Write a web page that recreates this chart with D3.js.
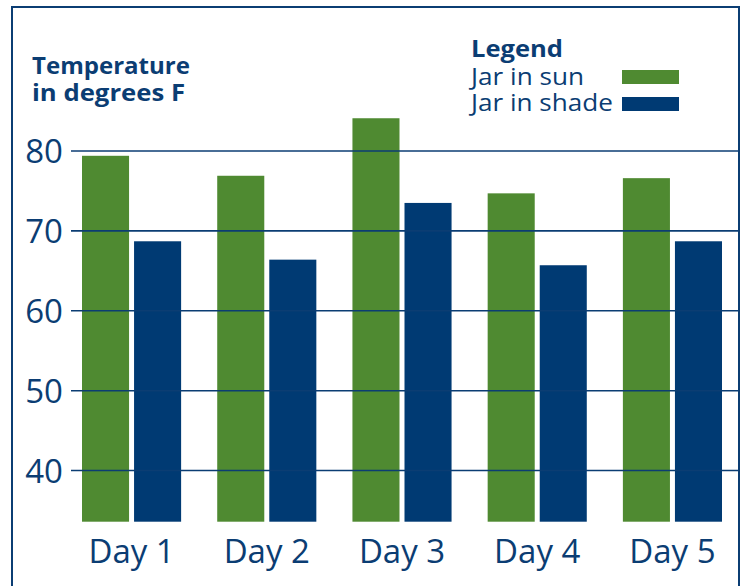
<!DOCTYPE html>
<html>
<head>
<meta charset="utf-8">
<script src="https://cdn.jsdelivr.net/npm/d3@7"></script>
<style>
  html, body { margin: 0; padding: 0; background: #fff; }
  svg { display: block; }
  text { font-family: "Open Sans", Lato, sans-serif; fill: #0b3d73; }
</style>
</head>
<body>
<svg id="chart" width="748" height="586"></svg>
<script>
const days = ["Day 1", "Day 2", "Day 3", "Day 4", "Day 5"];
const seriesNames = ["Jar in sun", "Jar in shade"];
const sunValues = [79.4, 76.9, 84.1, 74.7, 76.6];
const shadeValues = [68.7, 66.4, 73.5, 65.7, 68.7];
const yTicks = [40, 50, 60, 70, 80];
const colors = ["#4f8a31", "#003a73"];
const textColor = "#0b3d73";

const svg = d3.select("#chart");

// frame (bottom edge runs off the picture)
svg.append("rect")
  .attr("x", 12).attr("y", 7)
  .attr("width", 727).attr("height", 620)
  .attr("fill", "none")
  .attr("stroke", "#0b3d73")
  .attr("stroke-width", 2);

const y = d3.scaleLinear().domain([33.6, 80]).range([521.7, 151]);
const x0 = d3.scaleBand().domain(days).range([82, 722]).paddingInner(0.267).paddingOuter(0);
const x1 = d3.scaleBand().domain(seriesNames).range([0, x0.bandwidth()]).paddingInner(0.096).paddingOuter(0);

const rows = days.map((d, i) => ({ day: d, vals: [sunValues[i], shadeValues[i]] }));

const groups = svg.append("g").selectAll("g")
  .data(rows).join("g")
  .attr("transform", d => `translate(${x0(d.day)},0)`);

groups.selectAll("rect")
  .data(d => d.vals.map((v, k) => ({ name: seriesNames[k], v, k })))
  .join("rect")
  .attr("x", d => x1(d.name))
  .attr("width", x1.bandwidth())
  .attr("y", d => y(d.v))
  .attr("height", d => y(33.6) - y(d.v))
  .attr("fill", d => colors[d.k]);

// gridlines drawn over bars
const yAxis = d3.axisLeft(y).tickValues(yTicks).tickSize(0).tickPadding(0);
const grid = svg.append("g");
grid.selectAll("line")
  .data(yTicks).join("line")
  .attr("x1", 71).attr("x2", 738)
  .attr("y1", d => y(d)).attr("y2", d => y(d))
  .attr("stroke", "#0b3d73")
  .attr("stroke-width", 1.6);

const yg = svg.append("g").attr("transform", "translate(63,0)").call(yAxis);
yg.select(".domain").remove();
yg.selectAll("text")
  .attr("x", 0)
  .attr("dy", "0.36em")
  .attr("fill", textColor)
  .style("font-size", "33px")
  .style("font-family", '"Open Sans", Lato, sans-serif');

const xAxis = d3.axisBottom(x0).tickSize(0).tickPadding(0);
const xg = svg.append("g").attr("transform", "translate(0,563)").call(xAxis);
xg.select(".domain").remove();
xg.selectAll("text")
  .attr("y", 0).attr("dy", 0)
  .attr("fill", textColor)
  .style("font-size", "33px")
  .style("font-family", '"Open Sans", Lato, sans-serif');

// y title
const title = svg.append("text")
  .attr("x", 32).attr("y", 74)
  .style("font-size", "23px")
  .style("font-weight", "700");
title.append("tspan").attr("x", 32).attr("y", 74).attr("textLength", 158).attr("lengthAdjust", "spacingAndGlyphs").text("Temperature");
title.append("tspan").attr("x", 32).attr("y", 101).attr("textLength", 153).attr("lengthAdjust", "spacingAndGlyphs").text("in degrees F");

// legend
svg.append("text")
  .attr("x", 471).attr("y", 57)
  .style("font-size", "23px").style("font-weight", "700")
  .attr("textLength", 92).attr("lengthAdjust", "spacingAndGlyphs")
  .text("Legend");

const leg = svg.append("g").selectAll("g")
  .data(seriesNames).join("g");
leg.append("text")
  .attr("x", 471)
  .attr("y", (d, i) => 85 + i * 25.5)
  .style("font-size", "23px")
  .attr("textLength", (d, i) => i === 0 ? 113 : 142)
  .attr("lengthAdjust", "spacingAndGlyphs")
  .text(d => d);
leg.append("rect")
  .attr("x", 622)
  .attr("y", (d, i) => 70 + i * 27)
  .attr("width", 57).attr("height", 14)
  .attr("fill", (d, i) => colors[i]);
</script>
</body>
</html>
